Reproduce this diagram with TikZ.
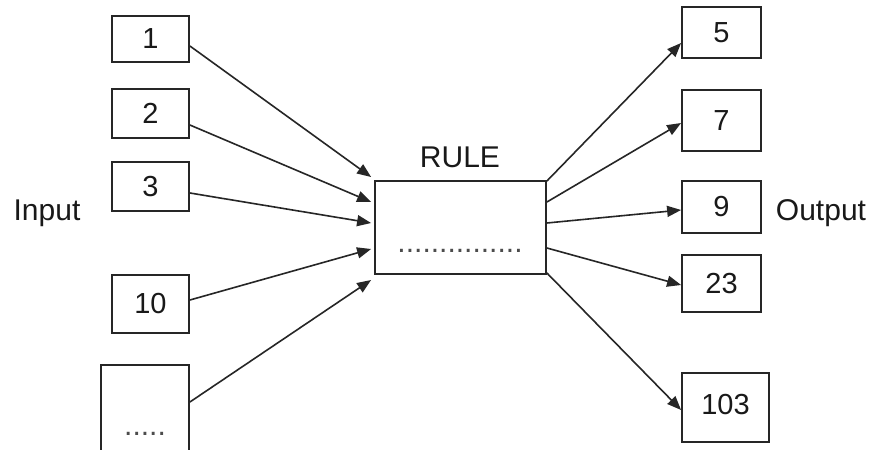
\documentclass[tikz,border=0pt]{standalone}
\usepackage{fontspec}
\setmainfont{Liberation Sans}
\usetikzlibrary{calc,arrows.meta}
\begin{document}
\begin{tikzpicture}[x=1pt,y=-1pt,
  box/.style={draw=black!85,line width=1.8pt,inner sep=0pt,font=\fontsize{29}{34}\selectfont,text=black!90},
  lbl/.style={inner sep=0pt,font=\fontsize{30}{36}\selectfont,text=black!90},
  arr/.style={draw=black!85,line width=1.6pt,-{Triangle[length=14pt,width=11pt]},shorten >=0pt}]
\useasboundingbox (0,0) rectangle (876,450);
\fill[white] (0,0) rectangle (876,450);
% inputs
\node[box,minimum width=77,minimum height=46] (b1) at (150.5,39) {1};
\node[box,minimum width=77,minimum height=49] (b2) at (150.5,113.5) {2};
\node[box,minimum width=77,minimum height=49] (b3) at (150.5,186.5) {3};
\node[box,minimum width=77,minimum height=58] (b10) at (150.5,304) {10};
\node[box,minimum width=88,minimum height=100] (bd) at (145,415) {};
\node[lbl,text=black!70] (bdtxt) at (145,434) {.....};
\node[lbl] (inlbl) at (47,213) {Input};
% rule
\node[box,minimum width=171,minimum height=93] (rule) at (460.5,227.5) {};
\node[lbl] (rulelbl) at (460,157) {RULE};
\node[lbl,text=black!70] (ruledots) at (460,251) {...............};
% outputs
\node[box,minimum width=79,minimum height=51] (o5) at (721.5,32.5) {5};
\node[box,minimum width=79,minimum height=61] (o7) at (721.5,120.5) {7};
\node[box,minimum width=79,minimum height=52] (o9) at (721.5,207) {9};
\node[box,minimum width=79,minimum height=57] (o23) at (721.5,283.5) {23};
\node[box,minimum width=87,minimum height=69] (o103) at (725.5,407.5) {\raisebox{6pt}{103}};
\node[lbl] (outlbl) at (821,213) {Output};
% input arrows
\draw[arr] ($(b1.east)+(0,7)$) -- ($(rule.west)+(-3,-50.5)$);
\draw[arr] ($(b2.east)+(0,11.5)$) -- ($(rule.west)+(-3,-25.5)$);
\draw[arr] ($(b3.east)+(0,6.5)$) -- ($(rule.west)+(-3,-4.5)$);
\draw[arr] ($(b10.east)+(0,-4)$) -- ($(rule.west)+(-3,21.5)$);
\draw[arr] ($(bd.east)+(0,-13)$) -- ($(rule.west)+(-3,52.5)$);
% output arrows
\draw[arr] ($(rule.east)+(0,-46.5)$) -- ($(o5.west)+(0,10.5)$);
\draw[arr] ($(rule.east)+(0,-25.5)$) -- ($(o7.west)+(0,2.5)$);
\draw[arr] ($(rule.east)+(0,-4.5)$) -- ($(o9.west)+(0,3)$);
\draw[arr] ($(rule.east)+(0,20.5)$) -- ($(o23.west)+(0,1.5)$);
\draw[arr] ($(rule.east)+(0,45.5)$) -- ($(o103.west)+(0,2.5)$);
\end{tikzpicture}
\end{document}
